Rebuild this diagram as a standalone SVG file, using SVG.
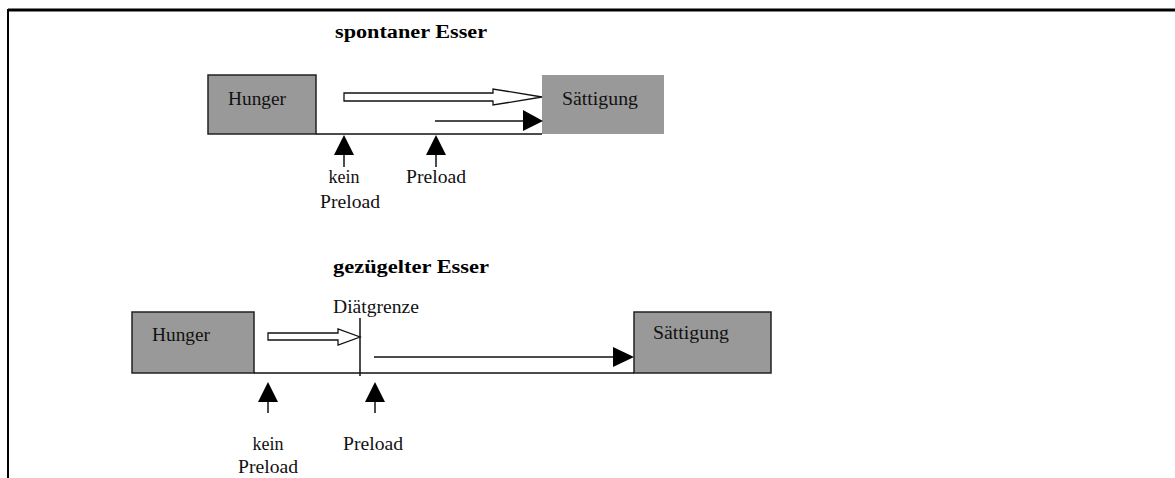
<svg xmlns="http://www.w3.org/2000/svg" width="1175" height="478" viewBox="0 0 1175 478">
<defs>
<style>
.t{font-family:"Liberation Serif","Times New Roman",serif;font-size:18px;fill:#111}
.b{font-family:"Liberation Serif","Times New Roman",serif;font-size:18px;font-weight:bold;fill:#000}
.box{fill:#999;stroke:#222;stroke-width:1.5}
.ln{stroke:#111;stroke-width:1.5;fill:none}
.hollow{fill:#fff;stroke:#111;stroke-width:1.3}
.head{fill:#000}
</style>
</defs>
<rect width="1175" height="478" fill="#fff"/>
<g id="frame">
<line x1="8" y1="10" x2="1175" y2="10" stroke="#000" stroke-width="3"/>
<line x1="8" y1="9" x2="8" y2="478" stroke="#000" stroke-width="2"/>
</g>
<text class="b" x="335" y="38" textLength="152" lengthAdjust="spacingAndGlyphs">spontaner Esser</text>
<text class="b" x="333" y="273" textLength="156" lengthAdjust="spacingAndGlyphs">gezügelter Esser</text>
<g id="hunger1"><rect class="box" x="208" y="75" width="108" height="59"/><text class="t" x="228" y="105" textLength="58" lengthAdjust="spacingAndGlyphs">Hunger</text></g>
<g id="saett1"><rect x="542" y="75" width="122" height="59" fill="#999"/><text class="t" x="562" y="105" textLength="76" lengthAdjust="spacingAndGlyphs">Sättigung</text></g>
<g id="hunger2"><rect class="box" x="132" y="312" width="122" height="61"/><text class="t" x="152" y="341" textLength="58" lengthAdjust="spacingAndGlyphs">Hunger</text></g>
<g id="saett2"><rect class="box" x="634" y="312" width="137" height="61"/><text class="t" x="653" y="339" textLength="76" lengthAdjust="spacingAndGlyphs">Sättigung</text></g>
<g id="connectors">
<line class="ln" x1="316" y1="134" x2="542" y2="134"/>
<polygon class="hollow" points="344,93 493,93 493,89 542,97 493,105 493,101 344,101"/>
<line class="ln" x1="435" y1="121" x2="524" y2="121"/>
<polygon class="head" points="523,110 543,121 523,131"/>
<polygon class="head" points="344,135 354,155 334,155"/><line class="ln" x1="344" y1="155" x2="344" y2="167"/>
<polygon class="head" points="436,135 446,155 426,155"/><line class="ln" x1="436" y1="155" x2="436" y2="167"/>
<line class="ln" x1="254" y1="373" x2="634" y2="373"/>
<line class="ln" x1="360" y1="318" x2="360" y2="376"/>
<polygon class="hollow" points="268,333 338,333 338,329 360,337 338,345 338,340 268,340"/>
<line class="ln" x1="374" y1="357" x2="614" y2="357"/>
<polygon class="head" points="613,347 634,357 613,367"/>
<polygon class="head" points="268,382 278,402 258,402"/><line class="ln" x1="268" y1="402" x2="268" y2="413"/>
<polygon class="head" points="375,382 385,402 365,402"/><line class="ln" x1="375" y1="402" x2="375" y2="413"/>
</g>
<g id="labels">
<text class="t" x="344" y="183" text-anchor="middle">kein</text>
<text class="t" x="320" y="208" textLength="60" lengthAdjust="spacingAndGlyphs">Preload</text>
<text class="t" x="406" y="183" textLength="60" lengthAdjust="spacingAndGlyphs">Preload</text>
<text class="t" x="333" y="313" textLength="86" lengthAdjust="spacingAndGlyphs">Diätgrenze</text>
<text class="t" x="268" y="450" text-anchor="middle">kein</text>
<text class="t" x="238" y="473" textLength="60" lengthAdjust="spacingAndGlyphs">Preload</text>
<text class="t" x="343" y="450" textLength="60" lengthAdjust="spacingAndGlyphs">Preload</text>
</g>
</svg>
